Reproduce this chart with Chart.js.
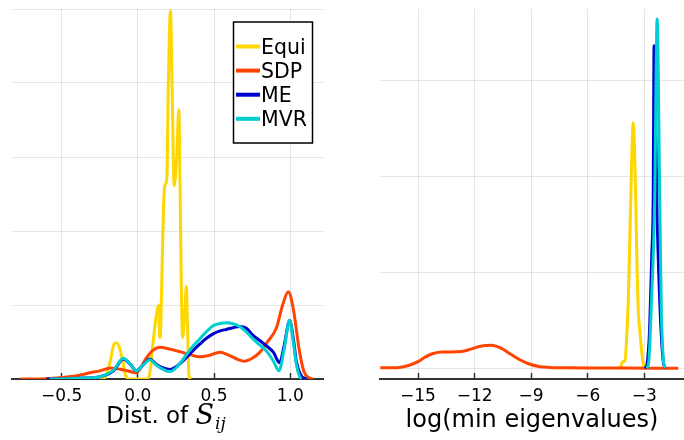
<!DOCTYPE html>
<html><head><meta charset="utf-8">
<script src="https://cdn.jsdelivr.net/npm/chart.js@4.4.1/dist/chart.umd.min.js"></script>
<style>
html,body{margin:0;padding:0;background:#fff;}
#wrap{position:relative;width:684px;height:440px;overflow:hidden;}
canvas{position:absolute;top:0;}
</style></head><body>
<div id="wrap">
<canvas id="c1" width="340" height="440" style="left:0"></canvas>
<canvas id="c2" width="344" height="440" style="left:340px"></canvas>
</div>
<script>
// ---- series ----
const seriesNames = ['Equi', 'SDP', 'ME', 'MVR'];
const seriesColors = ['#FFD700', '#FF4500', '#0000CD', '#00CED1'];

// ---- left panel: density of S_ij ----
const equiSijX = [-0.32,-0.24,-0.22,-0.2,-0.18,-0.16,-0.14,-0.12,-0.1,-0.085,-0.07,-0.06,0.066,0.08,0.1,0.12,0.133,0.138,0.142,0.148,0.157,0.168,0.178,0.19,0.2,0.214,0.226,0.238,0.255,0.269,0.277,0.285,0.293,0.308,0.318,0.326,0.336,0.35];
const equiSijY = [0,0.003,0.01,0.1,0.25,0.45,0.49,0.42,0.25,0.08,0.01,0,0,0.1,0.5,0.85,0.98,1.0,0.56,0.6,1.3,2.3,2.62,2.7,4.0,4.98,3.8,2.61,3.0,3.64,2.6,1.3,0.56,0.9,1.25,0.7,0.03,0];

const sdpSijX = [-0.77,-0.6,-0.5,-0.4,-0.3,-0.25,-0.18,-0.085,-0.01,0.057,0.1,0.144,0.2,0.275,0.34,0.406,0.47,0.537,0.6,0.65,0.7,0.75,0.8,0.85,0.909,0.95,0.987,1.02,1.06,1.09,1.12,1.15];
const sdpSijY = [0,0.004,0.02,0.045,0.09,0.11,0.15,0.12,0.085,0.29,0.39,0.43,0.41,0.37,0.33,0.3,0.32,0.36,0.32,0.27,0.24,0.28,0.36,0.5,0.69,1.0,1.18,0.95,0.38,0.1,0.02,0];

const meSijX = [-0.6,-0.45,-0.35,-0.25,-0.16,-0.096,-0.05,-0.01,0.035,0.079,0.12,0.166,0.21,0.26,0.319,0.36,0.406,0.45,0.494,0.54,0.581,0.62,0.668,0.71,0.756,0.8,0.843,0.89,0.93,0.96,0.996,1.02,1.04,1.07,1.105];
const meSijY = [0,0.005,0.012,0.03,0.11,0.27,0.2,0.11,0.19,0.27,0.2,0.15,0.13,0.18,0.29,0.38,0.47,0.55,0.61,0.65,0.67,0.69,0.71,0.69,0.59,0.52,0.45,0.36,0.22,0.45,0.79,0.55,0.24,0.05,0];

const mvrSijX = [-0.58,-0.45,-0.35,-0.25,-0.16,-0.096,-0.05,-0.01,0.035,0.079,0.12,0.166,0.21,0.26,0.319,0.36,0.406,0.45,0.494,0.54,0.581,0.62,0.668,0.71,0.756,0.8,0.843,0.89,0.926,0.96,0.996,1.02,1.04,1.06,1.073];
const mvrSijY = [0,0.005,0.012,0.03,0.12,0.28,0.2,0.11,0.19,0.26,0.19,0.13,0.1,0.17,0.33,0.44,0.54,0.64,0.72,0.75,0.76,0.75,0.71,0.64,0.54,0.46,0.38,0.24,0.11,0.4,0.79,0.5,0.2,0.04,0];

// ---- right panel: density of log(min eigenvalues) ----
const equiEigX = [-4.4,-4.25,-4.15,-4.02,-3.94,-3.85,-3.75,-3.65,-3.59,-3.52,-3.45,-3.38,-3.32,-3.24,-3.15,-3.05,-2.95];
const equiEigY = [0,0.02,0.07,0.08,0.3,0.7,1.5,2.3,2.56,2.3,1.7,1.0,0.6,0.4,0.2,0.04,0];

const sdpEigX = [-17,-16,-15.5,-15,-14.6,-14.2,-13.7,-13.2,-12.7,-12.2,-11.7,-11.1,-10.6,-10.1,-9.6,-9.1,-8.6,-8,-7,-5,-3,-1.2];
const sdpEigY = [0.005,0.01,0.03,0.07,0.12,0.155,0.17,0.17,0.175,0.2,0.23,0.24,0.21,0.15,0.09,0.045,0.02,0.01,0.005,0.003,0.002,0.001];

const meEigX = [-2.95,-2.85,-2.72,-2.6,-2.53,-2.48,-2.4,-2.32,-2.2,-2.1,-2.0,-1.9];
const meEigY = [0,0.05,0.4,1.2,1.75,3.36,2.6,1.6,0.8,0.35,0.08,0];

const mvrEigX = [-2.86,-2.75,-2.63,-2.45,-2.32,-2.18,-2.1,-2.0,-1.9];
const mvrEigY = [0,0.1,0.64,1.75,3.64,1.75,0.64,0.12,0];

// ---- ticks / labels ----
const leftTicks = [-0.5, 0, 0.5, 1.0];
const leftTickLabels = ['\u22120.5', '0.0', '0.5', '1.0'];
const rightTicks = [-15, -12, -9, -6, -3];
const rightTickLabels = ['\u221215', '\u221212', '\u22129', '\u22126', '\u22123'];
const leftYGrid = [0, 1, 2, 3, 4, 5];
const rightYGrid = [0, 1, 2, 3];
const leftTitleMain = 'Dist. of ';
const leftTitleVar = 'S';
const leftTitleSub = 'ij';
const rightTitle = 'log(min eigenvalues)';

const FONT = 'DejaVu Sans';
const pts = (X, Y) => X.map((x, i) => ({x: x, y: Y[i]}));

function makeDatasets(list) {
  return list.map((d, i) => ({
    label: seriesNames[i],
    data: pts(d[0], d[1]),
    borderColor: seriesColors[i],
    backgroundColor: seriesColors[i],
    borderWidth: 3,
    pointRadius: 0,
    fill: false,
    cubicInterpolationMode: 'monotone',
    order: 4 - i
  }));
}

function xScale(min, max, ticks, labels, title) {
  return {
    type: 'linear', min: min, max: max,
    afterBuildTicks: s => { s.ticks = ticks.map(v => ({value: v})); },
    afterFit: s => { s.height = 61; },
    ticks: {autoSkip: false, maxRotation: 0, padding: 13.5, color: '#000',
      font: {family: FONT, size: 17},
      callback: (v, i) => labels[i]},
    grid: {color: 'rgba(0,0,0,0.1)', lineWidth: 1, drawTicks: true, tickLength: -6,
      tickColor: '#333', tickWidth: 1.5},
    border: {display: true, color: '#333', width: 2},
    title: title
  };
}
function yScale(min, max, grid) {
  return {
    min: min, max: max,
    afterBuildTicks: s => { s.ticks = grid.map(v => ({value: v})); },
    afterFit: s => { s.width = 0; },
    ticks: {display: false},
    grid: {color: 'rgba(0,0,0,0.1)', lineWidth: 1, drawTicks: false},
    border: {display: false}
  };
}

const legendAndTitle = {
  id: 'legendAndTitle',
  afterDraw(chart) {
    const ctx = chart.ctx;
    ctx.save();
    // legend box
    ctx.fillStyle = '#fff';
    ctx.fillRect(233.5, 22, 79, 121);
    ctx.strokeStyle = '#000';
    ctx.lineWidth = 1.5;
    ctx.strokeRect(233.5, 22, 79, 121);
    chart.data.datasets.forEach((ds, i) => {
      const cy = 46.5 + i * 24.1;
      ctx.strokeStyle = ds.borderColor;
      ctx.lineWidth = 4;
      ctx.beginPath();
      ctx.moveTo(236, cy);
      ctx.lineTo(260, cy);
      ctx.stroke();
      ctx.fillStyle = '#000';
      ctx.font = '20.5px "' + FONT + '"';
      ctx.textBaseline = 'alphabetic';
      ctx.textAlign = 'left';
      ctx.fillText(ds.label, 261, cy + 7.5);
    });
    // x-axis title with math-styled S_ij
    const base = 423;
    const f1 = '23px "' + FONT + '"';
    const f2 = 'italic 27px "DejaVu Serif"';
    const f3 = 'italic 17px "DejaVu Serif"';
    ctx.font = f1; const w1 = ctx.measureText(leftTitleMain).width;
    ctx.font = f2; const w2 = ctx.measureText(leftTitleVar).width;
    ctx.font = f3; const w3 = ctx.measureText(leftTitleSub).width;
    let x = 166 - (w1 + w2 + 1 + w3) / 2;
    ctx.fillStyle = '#000';
    ctx.textAlign = 'left';
    ctx.textBaseline = 'alphabetic';
    ctx.font = f1; ctx.fillText(leftTitleMain, x, base); x += w1;
    ctx.font = f2; ctx.fillText(leftTitleVar, x, base + 1); x += w2 + 1;
    ctx.font = f3; ctx.fillText(leftTitleSub, x, base + 6);
    ctx.restore();
  }
};

Chart.defaults.font.family = FONT;

new Chart(document.getElementById('c1'), {
  type: 'line',
  data: {datasets: makeDatasets([[equiSijX, equiSijY], [sdpSijX, sdpSijY], [meSijX, meSijY], [mvrSijX, mvrSijY]])},
  options: {
    responsive: false, animation: false, devicePixelRatio: 1,
    layout: {padding: {left: 12, right: 17, top: 9, bottom: 0}},
    plugins: {legend: {display: false}, tooltip: {enabled: false}},
    scales: {
      x: xScale(-0.826, 1.215, leftTicks, leftTickLabels, {display: false}),
      y: yScale(0, 5, leftYGrid)
    }
  },
  plugins: [legendAndTitle]
});

new Chart(document.getElementById('c2'), {
  type: 'line',
  data: {datasets: makeDatasets([[equiEigX, equiEigY], [sdpEigX, sdpEigY], [meEigX, meEigY], [mvrEigX, mvrEigY]])},
  options: {
    responsive: false, animation: false, devicePixelRatio: 1,
    layout: {padding: {left: 40, right: 0, top: 9, bottom: 0}},
    plugins: {legend: {display: false}, tooltip: {enabled: false}},
    scales: {
      x: xScale(-17.015, -0.895, rightTicks, rightTickLabels,
        {display: true, text: rightTitle, color: '#000', font: {family: FONT, size: 24}, padding: {top: 0, bottom: 4.5}}),
      y: yScale(-0.111, 3.743, rightYGrid)
    }
  }
});
</script>
</body></html>
